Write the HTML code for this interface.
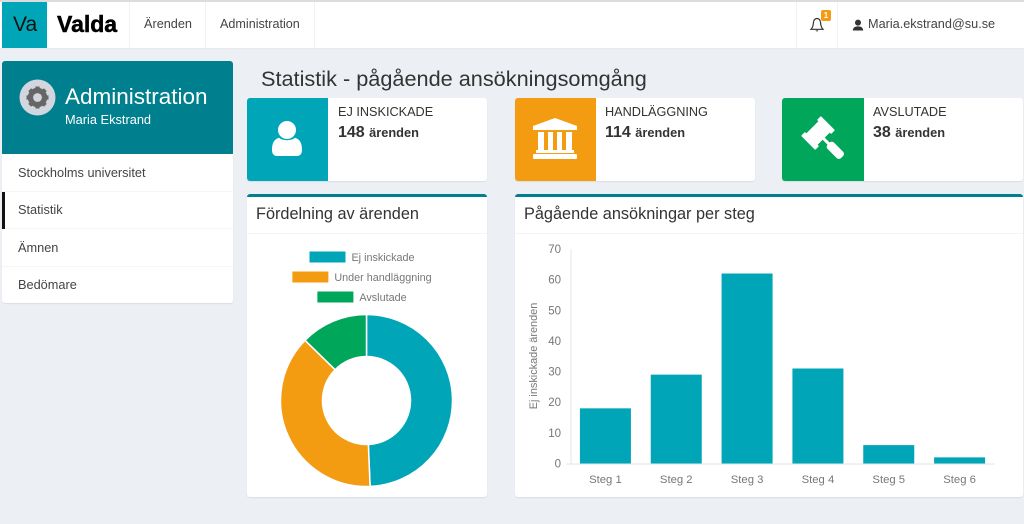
<!DOCTYPE html>
<html lang="sv">
<head>
<meta charset="utf-8">
<title>Statistik</title>
<style>
html,body{margin:0;padding:0}
body{width:1024px;height:524px;overflow:hidden;background:#ecf0f5;font-family:"Liberation Sans",sans-serif;color:#333;position:relative}
.abs{position:absolute}
.t{position:absolute;white-space:nowrap;line-height:1}
.card{position:absolute;background:#fff;border-radius:3px;box-shadow:0 1px 1px rgba(0,0,0,.08)}
svg{position:absolute;display:block}
</style>
</head>
<body>
<header class="abs" style="left:0;top:2px;width:1024px;height:46px;background:#fff;box-shadow:0 -2px 0 #dcdcdc,0 1px 0 #e6e9ee">
  <div class="abs" style="left:2px;top:0;width:45px;height:46px;background:#00a5b8"></div>
  <div class="t" style="left:13px;top:12px;font-size:21px;color:#111">Va</div>
  <div class="t" style="left:57px;top:11px;font-size:23px;font-weight:bold;color:#000;-webkit-text-stroke:.5px #000">Valda</div>
  <div class="abs" style="left:129px;top:0;width:1px;height:46px;background:#f1f1f1"></div>
  <div class="t" style="left:144px;top:16px;font-size:12.7px;color:#444">Ärenden</div>
  <div class="abs" style="left:205px;top:0;width:1px;height:46px;background:#f1f1f1"></div>
  <div class="t" style="left:220px;top:16px;font-size:12.6px;color:#444">Administration</div>
  <div class="abs" style="left:314px;top:0;width:1px;height:46px;background:#f1f1f1"></div>
  <div class="abs" style="left:796px;top:0;width:1px;height:46px;background:#f1f1f1"></div>
  <div class="abs" style="left:837px;top:0;width:1px;height:46px;background:#f4f4f4"></div>
  <svg style="left:809px;top:15px" width="16" height="16" viewBox="0 0 16 16">
    <path d="M8 1.5C5.5 1.5 4.6 3.5 4.4 6 4.2 9 3.4 10.8 2 12.3H14C12.6 10.8 11.8 9 11.6 6 11.4 3.5 10.5 1.5 8 1.5Z" fill="none" stroke="#333" stroke-width="1.2"/>
    <path d="M6.5 13.4a1.6 1.6 0 0 0 3 0" fill="#333"/>
  </svg>
  <div class="abs" style="left:821px;top:8px;width:10px;height:11px;background:#f39c12;border-radius:2px;color:#fff;font-size:8px;font-weight:bold;text-align:center;line-height:11px">1</div>
  <svg style="left:852px;top:17px" width="12" height="12" viewBox="0 0 12 12">
    <circle cx="6" cy="3.6" r="3" fill="#333"/>
    <path d="M0.8 11.5C1 8.5 3 7.4 6 7.4S11 8.5 11.2 11.5Z" fill="#333"/>
  </svg>
  <div class="t" style="left:868px;top:16px;font-size:12.7px;color:#444">Maria.ekstrand@su.se</div>
</header>

<aside>
  <div class="abs" style="left:2px;top:61px;width:231px;height:93px;background:#00808e;border-radius:3px 3px 0 0"></div>
  <svg style="left:19px;top:79px" width="37" height="37" viewBox="0 0 37 37">
    <circle cx="18.5" cy="18.5" r="18" fill="#d2d6de"/>
    <circle cx="18.5" cy="18.5" r="7.2" fill="none" stroke="#666" stroke-width="5"/>
    <g stroke="#666" stroke-width="4.2">
      <line x1="18.5" y1="7.5" x2="18.5" y2="29.5"/>
      <line x1="7.5" y1="18.5" x2="29.5" y2="18.5"/>
      <line x1="10.7" y1="10.7" x2="26.3" y2="26.3"/>
      <line x1="26.3" y1="10.7" x2="10.7" y2="26.3"/>
    </g>
    <circle cx="18.5" cy="18.5" r="4.4" fill="#d2d6de"/>
  </svg>
  <div class="t" style="left:65px;top:86px;font-size:22.5px;color:#fff">Administration</div>
  <div class="t" style="left:65px;top:114px;font-size:12.8px;color:#fff">Maria Ekstrand</div>
  <nav class="abs" style="left:2px;top:154px;width:231px;height:149px;background:#fff;border-radius:0 0 3px 3px;box-shadow:0 1px 1px rgba(0,0,0,.08)">
    <div class="abs" style="left:0;top:37px;width:231px;height:1px;background:#f6f6f6"></div>
    <div class="abs" style="left:0;top:74px;width:231px;height:1px;background:#f6f6f6"></div>
    <div class="abs" style="left:0;top:112px;width:231px;height:1px;background:#f6f6f6"></div>
    <div class="abs" style="left:0;top:38px;width:3px;height:37px;background:#111"></div>
    <div class="t" style="left:16px;top:13px;font-size:12.75px;color:#444">Stockholms universitet</div>
    <div class="t" style="left:16px;top:50px;font-size:12.75px;color:#444">Statistik</div>
    <div class="t" style="left:16px;top:88px;font-size:12.75px;color:#444">Ämnen</div>
    <div class="t" style="left:16px;top:125px;font-size:12.75px;color:#444">Bedömare</div>
  </nav>
</aside>

<div class="t" style="left:261px;top:68px;font-size:21.7px;color:#333">Statistik - pågående ansökningsomgång</div>

<section class="card" style="left:247px;top:98px;width:240px;height:83px">
  <div class="abs" style="left:0;top:0;width:81px;height:83px;background:#00a5b8;border-radius:3px 0 0 3px"></div>
  <svg style="left:25px;top:23px" width="30" height="35" viewBox="0 0 30 35">
    <ellipse cx="15" cy="9" rx="9" ry="9" fill="#fff"/>
    <path d="M0 29C0 22 2 18.5 7 16.8 10 20 20 20 23 16.8 28 18.5 30 22 30 29 30 33 28 35 25 35H5C2 35 0 33 0 29Z" fill="#fff"/>
  </svg>
  <div class="t" style="left:91px;top:8px;font-size:12.7px;color:#333">EJ INSKICKADE</div>
  <div class="t" style="left:91px;top:27px;font-size:16px;font-weight:bold;color:#333">148 <span style="font-size:12.8px">ärenden</span></div>
</section>

<section class="card" style="left:515px;top:98px;width:240px;height:83px">
  <div class="abs" style="left:0;top:0;width:81px;height:83px;background:#f39c12;border-radius:3px 0 0 3px"></div>
  <svg style="left:17px;top:20px" width="46" height="42" viewBox="0 0 46 42">
    <path d="M23 0 45 8V12H1V8Z" fill="#fff"/>
    <rect x="6" y="14" width="6" height="18" fill="#fff"/>
    <rect x="16" y="14" width="5" height="18" fill="#fff"/>
    <rect x="25" y="14" width="5" height="18" fill="#fff"/>
    <rect x="34" y="14" width="6" height="18" fill="#fff"/>
    <rect x="4" y="32" width="38" height="3" fill="#fff"/>
    <rect x="1" y="36" width="44" height="5" rx="1" fill="#fff"/>
  </svg>
  <div class="t" style="left:90px;top:8px;font-size:12.7px;color:#333">HANDLÄGGNING</div>
  <div class="t" style="left:90px;top:27px;font-size:16px;font-weight:bold;color:#333">114 <span style="font-size:12.8px">ärenden</span></div>
</section>

<section class="card" style="left:782px;top:98px;width:241px;height:83px">
  <div class="abs" style="left:0;top:0;width:82px;height:83px;background:#00a65a;border-radius:3px 0 0 3px"></div>
  <svg style="left:16px;top:16px" width="52" height="52" viewBox="0 0 52 52">
    <g fill="#fff" transform="translate(20 19) rotate(-45)">
      <rect x="-10" y="-8" width="20" height="16"/>
      <rect x="-14" y="-10" width="5.5" height="20" rx="1"/>
      <rect x="8.5" y="-10" width="5.5" height="20" rx="1"/>
      <rect x="-1.5" y="7" width="3" height="9"/>
      <rect x="-4.5" y="15" width="9" height="19" rx="3"/>
    </g>
  </svg>
  <div class="t" style="left:91px;top:8px;font-size:12.7px;color:#333">AVSLUTADE</div>
  <div class="t" style="left:91px;top:27px;font-size:16px;font-weight:bold;color:#333">38 <span style="font-size:12.8px">ärenden</span></div>
</section>

<section class="card" style="left:247px;top:194px;width:240px;height:303px;border-top:3px solid #007f8d;box-sizing:border-box">
  <div class="t" style="left:9px;top:9px;font-size:16.3px;color:#333">Fördelning av ärenden</div>
  <div class="abs" style="left:0;top:36px;width:240px;height:1px;background:#f4f4f4"></div>
</section>

<section class="card" style="left:515px;top:194px;width:508px;height:303px;border-top:3px solid #007f8d;box-sizing:border-box">
  <div class="t" style="left:9px;top:9px;font-size:16.3px;color:#333">Pågående ansökningar per steg</div>
  <div class="abs" style="left:0;top:36px;width:508px;height:1px;background:#f4f4f4"></div>
</section>

<svg id="charts" style="left:0;top:0" width="1024" height="524"></svg>

<script>
const donutLabels = ['Ej inskickade', 'Under handläggning', 'Avslutade'];
const donutValues = [148, 114, 38];
const donutColors = ['#00a5b8', '#f39c12', '#00a65a'];
const stepCategories = ['Steg 1', 'Steg 2', 'Steg 3', 'Steg 4', 'Steg 5', 'Steg 6'];
const stepValues = [18, 29, 62, 31, 6, 2];
const yTickLabels = [0, 10, 20, 30, 40, 50, 60, 70];

const NS = 'http://www.w3.org/2000/svg';
const svg = document.getElementById('charts');
function mk(tag, attrs, text) {
  const el = document.createElementNS(NS, tag);
  for (const k in attrs) el.setAttribute(k, attrs[k]);
  if (text !== undefined) el.textContent = text;
  svg.appendChild(el);
  return el;
}

/* Donut chart */
const cx = 366.5, cy = 400.5, rOuter = 86, rInner = 44;
const total = donutValues.reduce((a, b) => a + b, 0);
function polar(r, f) {
  const a = f * 2 * Math.PI - Math.PI / 2;
  return [cx + r * Math.cos(a), cy + r * Math.sin(a)];
}
let cum = 0;
donutValues.forEach((v, i) => {
  const f0 = cum / total, f1 = (cum + v) / total;
  cum += v;
  const large = f1 - f0 > 0.5 ? 1 : 0;
  const p0 = polar(rOuter, f0), p1 = polar(rOuter, f1), p2 = polar(rInner, f1), p3 = polar(rInner, f0);
  const d = 'M' + p0 + 'A' + rOuter + ',' + rOuter + ' 0 ' + large + ' 1 ' + p1 +
            'L' + p2 + 'A' + rInner + ',' + rInner + ' 0 ' + large + ' 0 ' + p3 + 'Z';
  const slice = mk('path', { d: d, fill: donutColors[i], stroke: '#fff', 'stroke-width': 1.5 });
  
  
});

/* Donut legend */
const legendCenter = 362, legendTop = 257, legendStep = 20, swatchW = 36, swatchH = 11, legendGap = 6;
const measure = document.createElement('canvas').getContext('2d');
measure.font = '10.8px "Liberation Sans"';
donutLabels.forEach((lab, i) => {
  const w = swatchW + legendGap + measure.measureText(lab).width;
  const x = legendCenter - w / 2;
  const y = legendTop + i * legendStep;
  const swatch = mk('rect', { x: x, y: y - swatchH / 2, width: swatchW, height: swatchH, fill: donutColors[i] });
  
  
  const txt = mk('text', { x: x + swatchW + legendGap, y: y + 4, 'font-size': 10.8, fill: '#777', 'font-family': '"Liberation Sans",sans-serif' }, lab);
  
  
});

/* Bar chart axes */
const plotLeft = 570, plotRight = 995, plotBottom = 463.5, plotTop = 249;
const yMax = 70;
function yScale(v) { return plotBottom - (v / yMax) * (plotBottom - plotTop); }
const slot = (plotRight - plotLeft) / stepCategories.length;
function xCenter(i) { return plotLeft + slot * (i + 0.5); }
const barWidth = slot * 0.72;

const yAxisLine = mk('line', { x1: plotLeft + 1, x2: plotLeft + 1, y1: plotTop, y2: plotBottom + 1, stroke: '#e6e6e6' });


const xAxisLine = mk('line', { x1: plotLeft - 4, x2: plotRight, y1: plotBottom + 0.5, y2: plotBottom + 0.5, stroke: '#e6e6e6' });



yTickLabels.forEach(t => {
  const lab = mk('text', { x: 561, y: yScale(t) + 4, 'text-anchor': 'end', 'font-size': 11.5, fill: '#777', 'font-family': '"Liberation Sans",sans-serif' }, t);
  
  
});

stepCategories.forEach((c, i) => {
  const top = yScale(stepValues[i]);
  const bar = mk('rect', { x: xCenter(i) - barWidth / 2, y: top, width: barWidth, height: plotBottom - top, fill: '#00a5b8' });
  
  
  const lab = mk('text', { x: xCenter(i), y: 483, 'text-anchor': 'middle', 'font-size': 11.3, fill: '#777', 'font-family': '"Liberation Sans",sans-serif' }, c);
  
  
});

const yTitle = mk('text', { x: 0, y: 0, transform: 'translate(537 356) rotate(-90)', 'text-anchor': 'middle', 'font-size': 10.9, fill: '#777', 'font-family': '"Liberation Sans",sans-serif' }, 'Ej inskickade ärenden');


</script>
</body>
</html>
